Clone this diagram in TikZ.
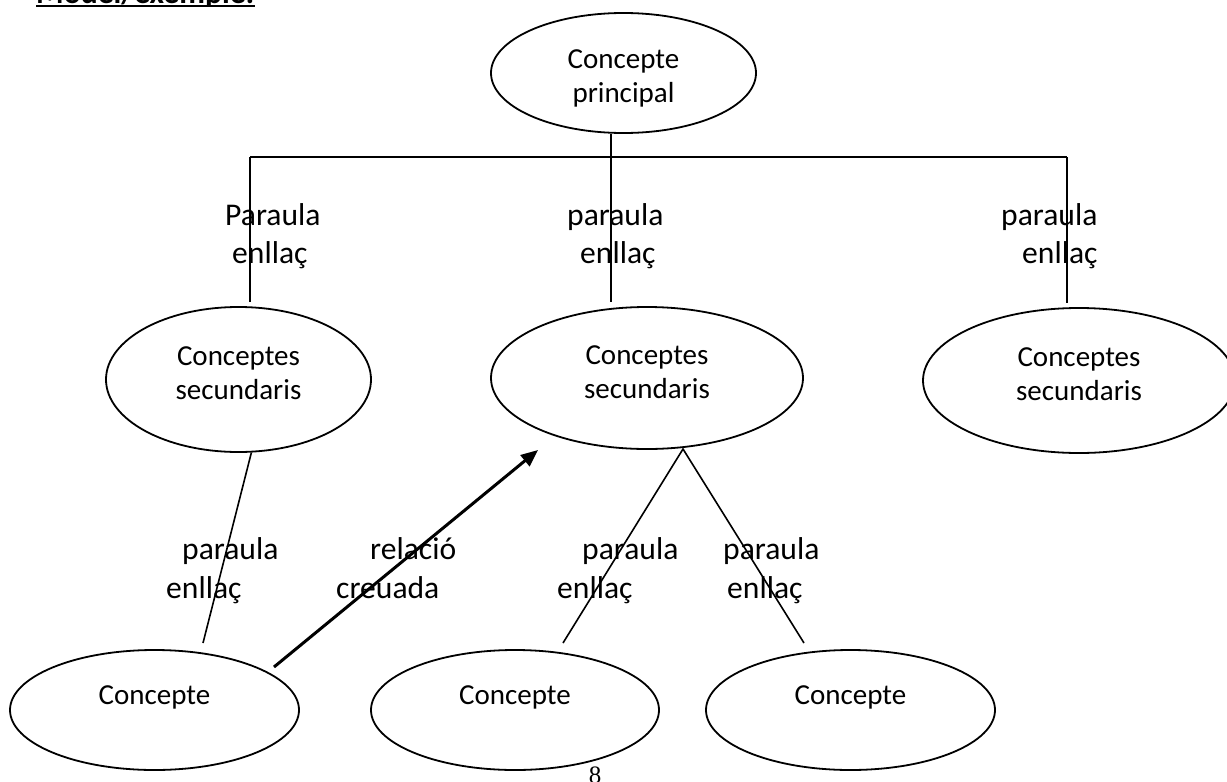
\documentclass[tikz,border=0pt]{standalone}
\usepackage{fontspec}
\setmainfont{Carlito}
\newfontfamily\pagenumfont{Liberation Serif}
\usetikzlibrary{shapes.geometric,arrows.meta}
\begin{document}
\begin{tikzpicture}[x=1pt,y=-1pt,
  concept/.style={draw, ellipse, line width=1.8pt, inner sep=0pt},
  ctext/.style={align=center, inner sep=0pt, font=\fontsize{29}{34}\selectfont},
  lbl/.style={anchor=base west, inner sep=0pt, font=\fontsize{31.6}{38}\selectfont},
  conn/.style={line width=1.6pt},
  cross/.style={line width=3pt, -{Triangle[length=17pt,width=14pt]}}
  ]
\useasboundingbox (0,0) rectangle (1227,782);

% heading (cut off by the page top)
\begin{scope}
  \clip (0,0) rectangle (1227,5);
  \node[anchor=base west, inner sep=0pt, font=\bfseries\fontsize{31.6}{38}\selectfont] (head) at (36,3.5) {Model/exemple:};
\end{scope}
\draw[line width=2.2pt] ([yshift=-2.7pt]head.base west) -- ([yshift=-2.7pt]head.base east);

% concepts
\node[concept, minimum width=265pt, minimum height=120pt,
  label={[ctext, yshift=-5pt]center:{Concepte\\principal}}] (cp) at (623.5,73) {};
\node[concept, minimum width=265pt, minimum height=145pt,
  label={[ctext, yshift=6pt]center:{Conceptes\\secundaris}}] (s1) at (238.5,379.5) {};
\node[concept, minimum width=312pt, minimum height=142pt,
  label={[ctext, yshift=6pt]center:{Conceptes\\secundaris}}] (s2) at (647,378) {};
\node[concept, minimum width=312pt, minimum height=145pt,
  label={[ctext, yshift=6pt]center:{Conceptes\\secundaris}}] (s3) at (1079,380.5) {};
\node[concept, minimum width=289pt, minimum height=120pt,
  label={[ctext, yshift=13pt]center:Concepte}] (c1) at (154.5,710) {};
\node[concept, minimum width=288pt, minimum height=120pt,
  label={[ctext, yshift=13pt]center:Concepte}] (c2) at (515,710) {};
\node[concept, minimum width=289pt, minimum height=120pt,
  label={[ctext, yshift=13pt]center:Concepte}] (c3) at (850.5,710) {};

% top tree
\coordinate (hl) at (250,157);
\coordinate (hm) at (611,157);
\coordinate (hr) at (1067,157);
\coordinate (t1) at (250,302);
\coordinate (t2) at (611,302);
\coordinate (t3) at (1067,303);
\draw[conn] (hl) -- (hr);
\draw[conn] (hm |- cp.south) -- (t2);
\draw[conn] (hl) -- (t1);
\draw[conn] (hr) -- (t3);

% lower connectors
\coordinate (b1) at (203,643);
\coordinate (ap) at (683,449);
\coordinate (b2) at (563,643);
\coordinate (b3) at (804,643);
\draw[conn] (s1.280) -- (b1);
\draw[conn] (b2) -- (ap) -- (b3);

% cross relation
\coordinate (as) at (274,667);
\coordinate (ae) at (538,450);
\draw[cross] (as) -- (ae);

% labels
\node[lbl] (l1a) at (225,225) {Paraula};
\node[lbl] (l1b) at (232,263) {enllaç};
\node[lbl] (l2a) at (567,225) {paraula};
\node[lbl] (l2b) at (580,263) {enllaç};
\node[lbl] (l3a) at (1001,225) {paraula};
\node[lbl] (l3b) at (1022,263) {enllaç};
\node[lbl] (l4a) at (182,559) {paraula};
\node[lbl] (l4b) at (166,598) {enllaç};
\node[lbl] (l5a) at (370,559) {relació};
\node[lbl] (l5b) at (336,598) {creuada};
\node[lbl] (l6a) at (582,559) {paraula};
\node[lbl] (l6b) at (557,598) {enllaç};
\node[lbl] (l7a) at (723,559) {paraula};
\node[lbl] (l7b) at (727,598) {enllaç};

% page number (cut off by the page bottom)
\node[anchor=base, inner sep=0pt, font=\pagenumfont\fontsize{25}{29}\selectfont] (pg) at (595,783) {8};
\end{tikzpicture}
\end{document}
